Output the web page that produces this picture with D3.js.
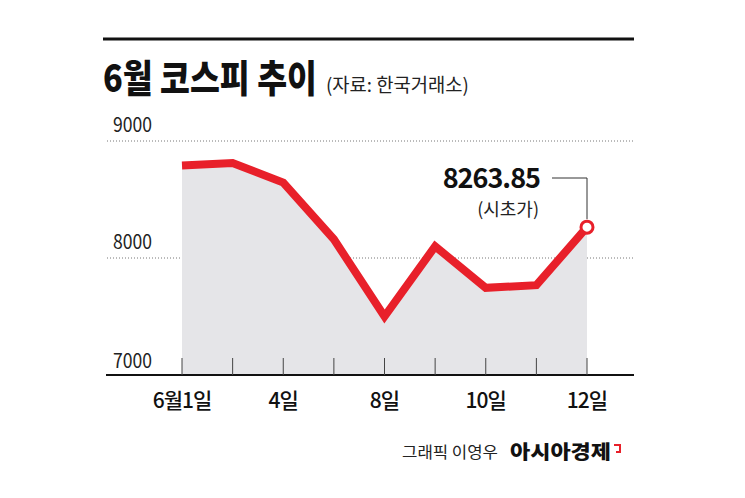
<!DOCTYPE html>
<html>
<head>
<meta charset="utf-8">
<script src="https://cdn.jsdelivr.net/npm/d3@7"></script>
<style>
    body { margin: 0; background: #fff; }
    svg { display: block; font-family: "Noto Sans CJK KR", "Noto Sans", sans-serif; }
</style>
</head>
<body>
<svg width="745" height="498"></svg>
<script>
// 6월 거래일
const days = ["1일", "2일", "4일", "5일", "8일", "9일", "10일", "11일", "12일"]
const kospi = [8791, 8812, 8645, 8160, 7500, 8100, 7745, 7768, 8263.85]
const tickLabels = { "1일": "6월1일", "4일": "4일", "8일": "8일", "10일": "10일", "12일": "12일" }
const yTicks = [7000, 8000, 9000]

const red = "#e8202a"
const svg = d3.select("svg")

const x = d3.scalePoint().domain(days).range([182, 587])
const y = d3.scaleLinear().domain([7000, 9000]).range([375, 141])
const baseY = y(7000)

// squeeze a text to a given width (the original uses a condensed face)
function fitWidth(sel, w) {
    const len = sel.node().getComputedTextLength()
    const k = Math.min(1, w / len)
    const px = +sel.attr("x"), py = +sel.attr("y")
    sel.attr("x", 0).attr("y", 0)
        .attr("transform", `translate(${px},${py}) scale(${k},1)`)
}

// title
svg.append("line")
    .attr("x1", 103).attr("x2", 634)
    .attr("y1", 39).attr("y2", 39)
    .attr("stroke", "#111").attr("stroke-width", 3)

const title = svg.append("text")
    .attr("x", 103).attr("y", 92)
    .attr("font-size", 38).attr("font-weight", 900)
    .attr("fill", "#111")
    .text("6월 코스피 추이")
fitWidth(title, 214)

const source = svg.append("text")
    .attr("x", 326).attr("y", 92)
    .attr("font-size", 19).attr("fill", "#222")
    .text("(자료: 한국거래소)")
fitWidth(source, 143)

// grid + y labels
svg.append("g")
    .selectAll("line")
    .data(yTicks.filter(d => d > 7000))
    .enter().append("line")
    .attr("x1", 107).attr("x2", 635)
    .attr("y1", d => y(d)).attr("y2", d => y(d))
    .attr("stroke", "#777").attr("stroke-width", 1)
    .attr("stroke-dasharray", "1,2")

svg.append("g")
    .selectAll("text")
    .data(yTicks)
    .enter().append("text")
    .attr("x", 113)
    .attr("y", d => d === 7000 ? baseY - 7 : y(d) - 9)
    .attr("font-size", 20)
    .attr("fill", "#222")
    .attr("textLength", 39).attr("lengthAdjust", "spacingAndGlyphs")
    .text(d => d)

// area
const area = d3.area()
    .x((d, i) => x(days[i]))
    .y0(baseY)
    .y1(d => y(d))

svg.append("path")
    .datum(kospi)
    .attr("d", area)
    .attr("fill", "#e5e5e8")

// x axis
svg.append("line")
    .attr("x1", 106).attr("x2", 634)
    .attr("y1", baseY).attr("y2", baseY)
    .attr("stroke", "#111").attr("stroke-width", 2)

svg.append("g")
    .selectAll("line")
    .data(days)
    .enter().append("line")
    .attr("x1", d => x(d)).attr("x2", d => x(d))
    .attr("y1", baseY - 17).attr("y2", baseY)
    .attr("stroke", "#444").attr("stroke-width", 1)

svg.append("g")
    .selectAll("text")
    .data(days.filter(d => tickLabels[d]))
    .enter().append("text")
    .attr("x", d => x(d)).attr("y", 408)
    .attr("text-anchor", "middle")
    .attr("font-size", 21).attr("font-weight", 500)
    .attr("fill", "#111")
    .attr("letter-spacing", -1)
    .text(d => tickLabels[d])

// line
const line = d3.line()
    .x((d, i) => x(days[i]))
    .y(d => y(d))

svg.append("path")
    .datum(kospi)
    .attr("d", line)
    .attr("fill", "none")
    .attr("stroke", red)
    .attr("stroke-width", 8)
    .attr("stroke-linejoin", "miter")

// last value annotation
const lastDay = days[days.length - 1]
const last = kospi[kospi.length - 1]
const cx = x(lastDay), cy = y(last)

svg.append("path")
    .attr("d", `M${552},${178}H${cx}V${cy - 8}`)
    .attr("fill", "none")
    .attr("stroke", "#333").attr("stroke-width", 1)

svg.append("circle")
    .attr("cx", cx).attr("cy", cy).attr("r", 6)
    .attr("fill", "#fff")
    .attr("stroke", red).attr("stroke-width", 3)

svg.append("text")
    .attr("x", 540).attr("y", 188)
    .attr("text-anchor", "end")
    .attr("font-size", 27).attr("font-weight", 700)
    .attr("letter-spacing", -1)
    .attr("fill", "#111")
    .text(last.toFixed(2))

svg.append("text")
    .attr("x", 539).attr("y", 216)
    .attr("text-anchor", "end")
    .attr("font-size", 18).attr("fill", "#222")
    .text("(시초가)")

// credit
svg.append("text")
    .attr("x", 402).attr("y", 458)
    .attr("font-size", 16).attr("fill", "#222")
    .attr("textLength", 96).attr("lengthAdjust", "spacingAndGlyphs")
    .text("그래픽 이영우")

svg.append("text")
    .attr("x", 510).attr("y", 459)
    .attr("font-size", 19).attr("font-weight", 900)
    .attr("fill", "#111")
    .attr("textLength", 101).attr("lengthAdjust", "spacingAndGlyphs")
    .text("아시아경제")

svg.append("path")
    .attr("d", "M614,445H620V452H616")
    .attr("fill", "none")
    .attr("stroke", red).attr("stroke-width", 2)
</script>
</body>
</html>
